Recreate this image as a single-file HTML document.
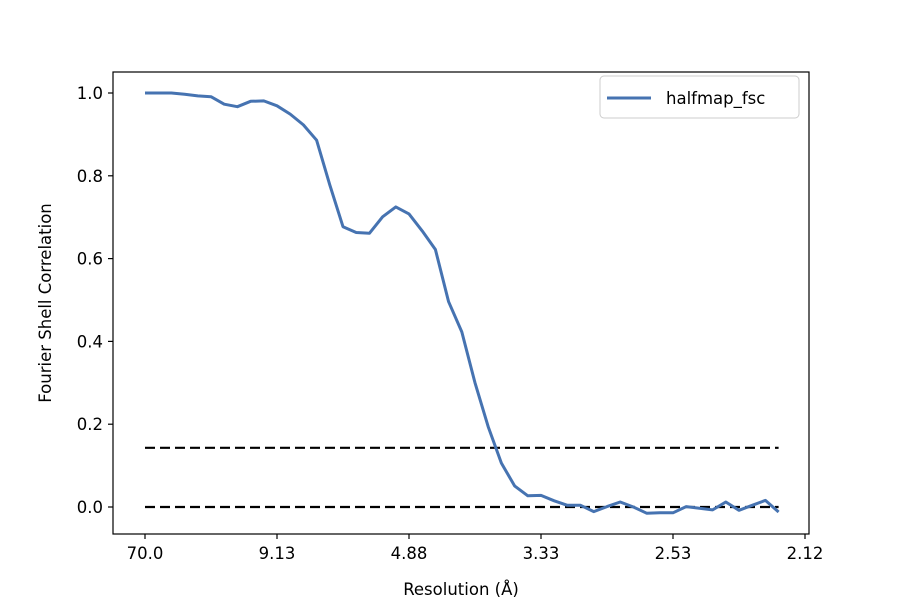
<!DOCTYPE html>
<html><head><meta charset="utf-8"><style>
body{margin:0;background:#fff}
svg text{font-family:"DejaVu Sans","Liberation Sans",sans-serif;font-size:16.5px;fill:#000}
</style></head><body>
<svg id="chart" width="900" height="600" viewBox="0 0 900 600">
<rect x="0" y="0" width="900" height="600" fill="#fff"/>
<g id="plot"></g>
</svg>
<script>
const fscValues=[1.0,1.0,1.0,0.997,0.993,0.991,0.973,0.967,0.980,0.981,0.969,0.949,0.923,0.886,0.778,0.677,0.663,0.661,0.701,0.725,0.708,0.667,0.622,0.496,0.423,0.30,0.194,0.106,0.051,0.027,0.028,0.015,0.004,0.004,-0.011,0.001,0.012,0.0,-0.015,-0.014,-0.014,0.001,-0.003,-0.007,0.012,-0.008,0.004,0.016,-0.012];
const thresholds=[0.143,0.0];
const xTickIdx=[0,10,20,30,40,50];
const xTickLabels=["70.0","9.13","4.88","3.33","2.53","2.12"];
const yTicks=[0.0,0.2,0.4,0.6,0.8,1.0];
const yTickLabels=["0.0","0.2","0.4","0.6","0.8","1.0"];

const L=113,R=809,T=72,B=534;
const xs=i=>145+i*13.2;
const ys=v=>507-v*414;
const NS="http://www.w3.org/2000/svg";
const g=document.getElementById('plot');
function mk(tag,attrs){const e=document.createElementNS(NS,tag);for(const k in attrs)e.setAttribute(k,attrs[k]);g.appendChild(e);return e;}

thresholds.forEach((t,i)=>{
 const e=mk('line',{x1:xs(0),x2:xs(fscValues.length-1),y1:ys(t),y2:ys(t),stroke:'#000','stroke-width':2.2,'stroke-dasharray':'10,5'});
 
 
});
const pts=fscValues.map((v,i)=>xs(i).toFixed(1)+','+ys(v).toFixed(1)).join(' ');
const line=mk('polyline',{points:pts,fill:'none',stroke:'#4673b1','stroke-width':3,'stroke-linejoin':'round'});



const frame=mk('rect',{x:L,y:T,width:R-L,height:B-T,fill:'none',stroke:'#000','stroke-width':1.2});



xTickIdx.forEach((ix,i)=>{
 const x=xs(ix);
 mk('line',{x1:x,x2:x,y1:B,y2:B+5,stroke:'#000','stroke-width':1.2});
 const t=mk('text',{x:x,y:B+25,'text-anchor':'middle'});t.textContent=xTickLabels[i];
 
 
});
yTicks.forEach((v,i)=>{
 const y=ys(v);
 mk('line',{x1:L-5,x2:L,y1:y,y2:y,stroke:'#000','stroke-width':1.2});
 const t=mk('text',{x:L-10,y:y+6,'text-anchor':'end'});t.textContent=yTickLabels[i];
 
 
});
const xl=mk('text',{x:461,y:595,'text-anchor':'middle'});xl.textContent='Resolution (Å)';


const yl=mk('text',{x:0,y:0,'text-anchor':'middle',transform:'translate(51,303) rotate(-90)'});yl.textContent='Fourier Shell Correlation';



const lg=mk('rect',{x:600,y:76,width:199,height:42,rx:4,fill:'#fff',stroke:'#ccc','stroke-width':1});


mk('line',{x1:607,x2:651,y1:98,y2:98,stroke:'#4673b1','stroke-width':3});
const lt=mk('text',{x:666,y:104});lt.textContent='halfmap_fsc';


</script>
</body></html>
